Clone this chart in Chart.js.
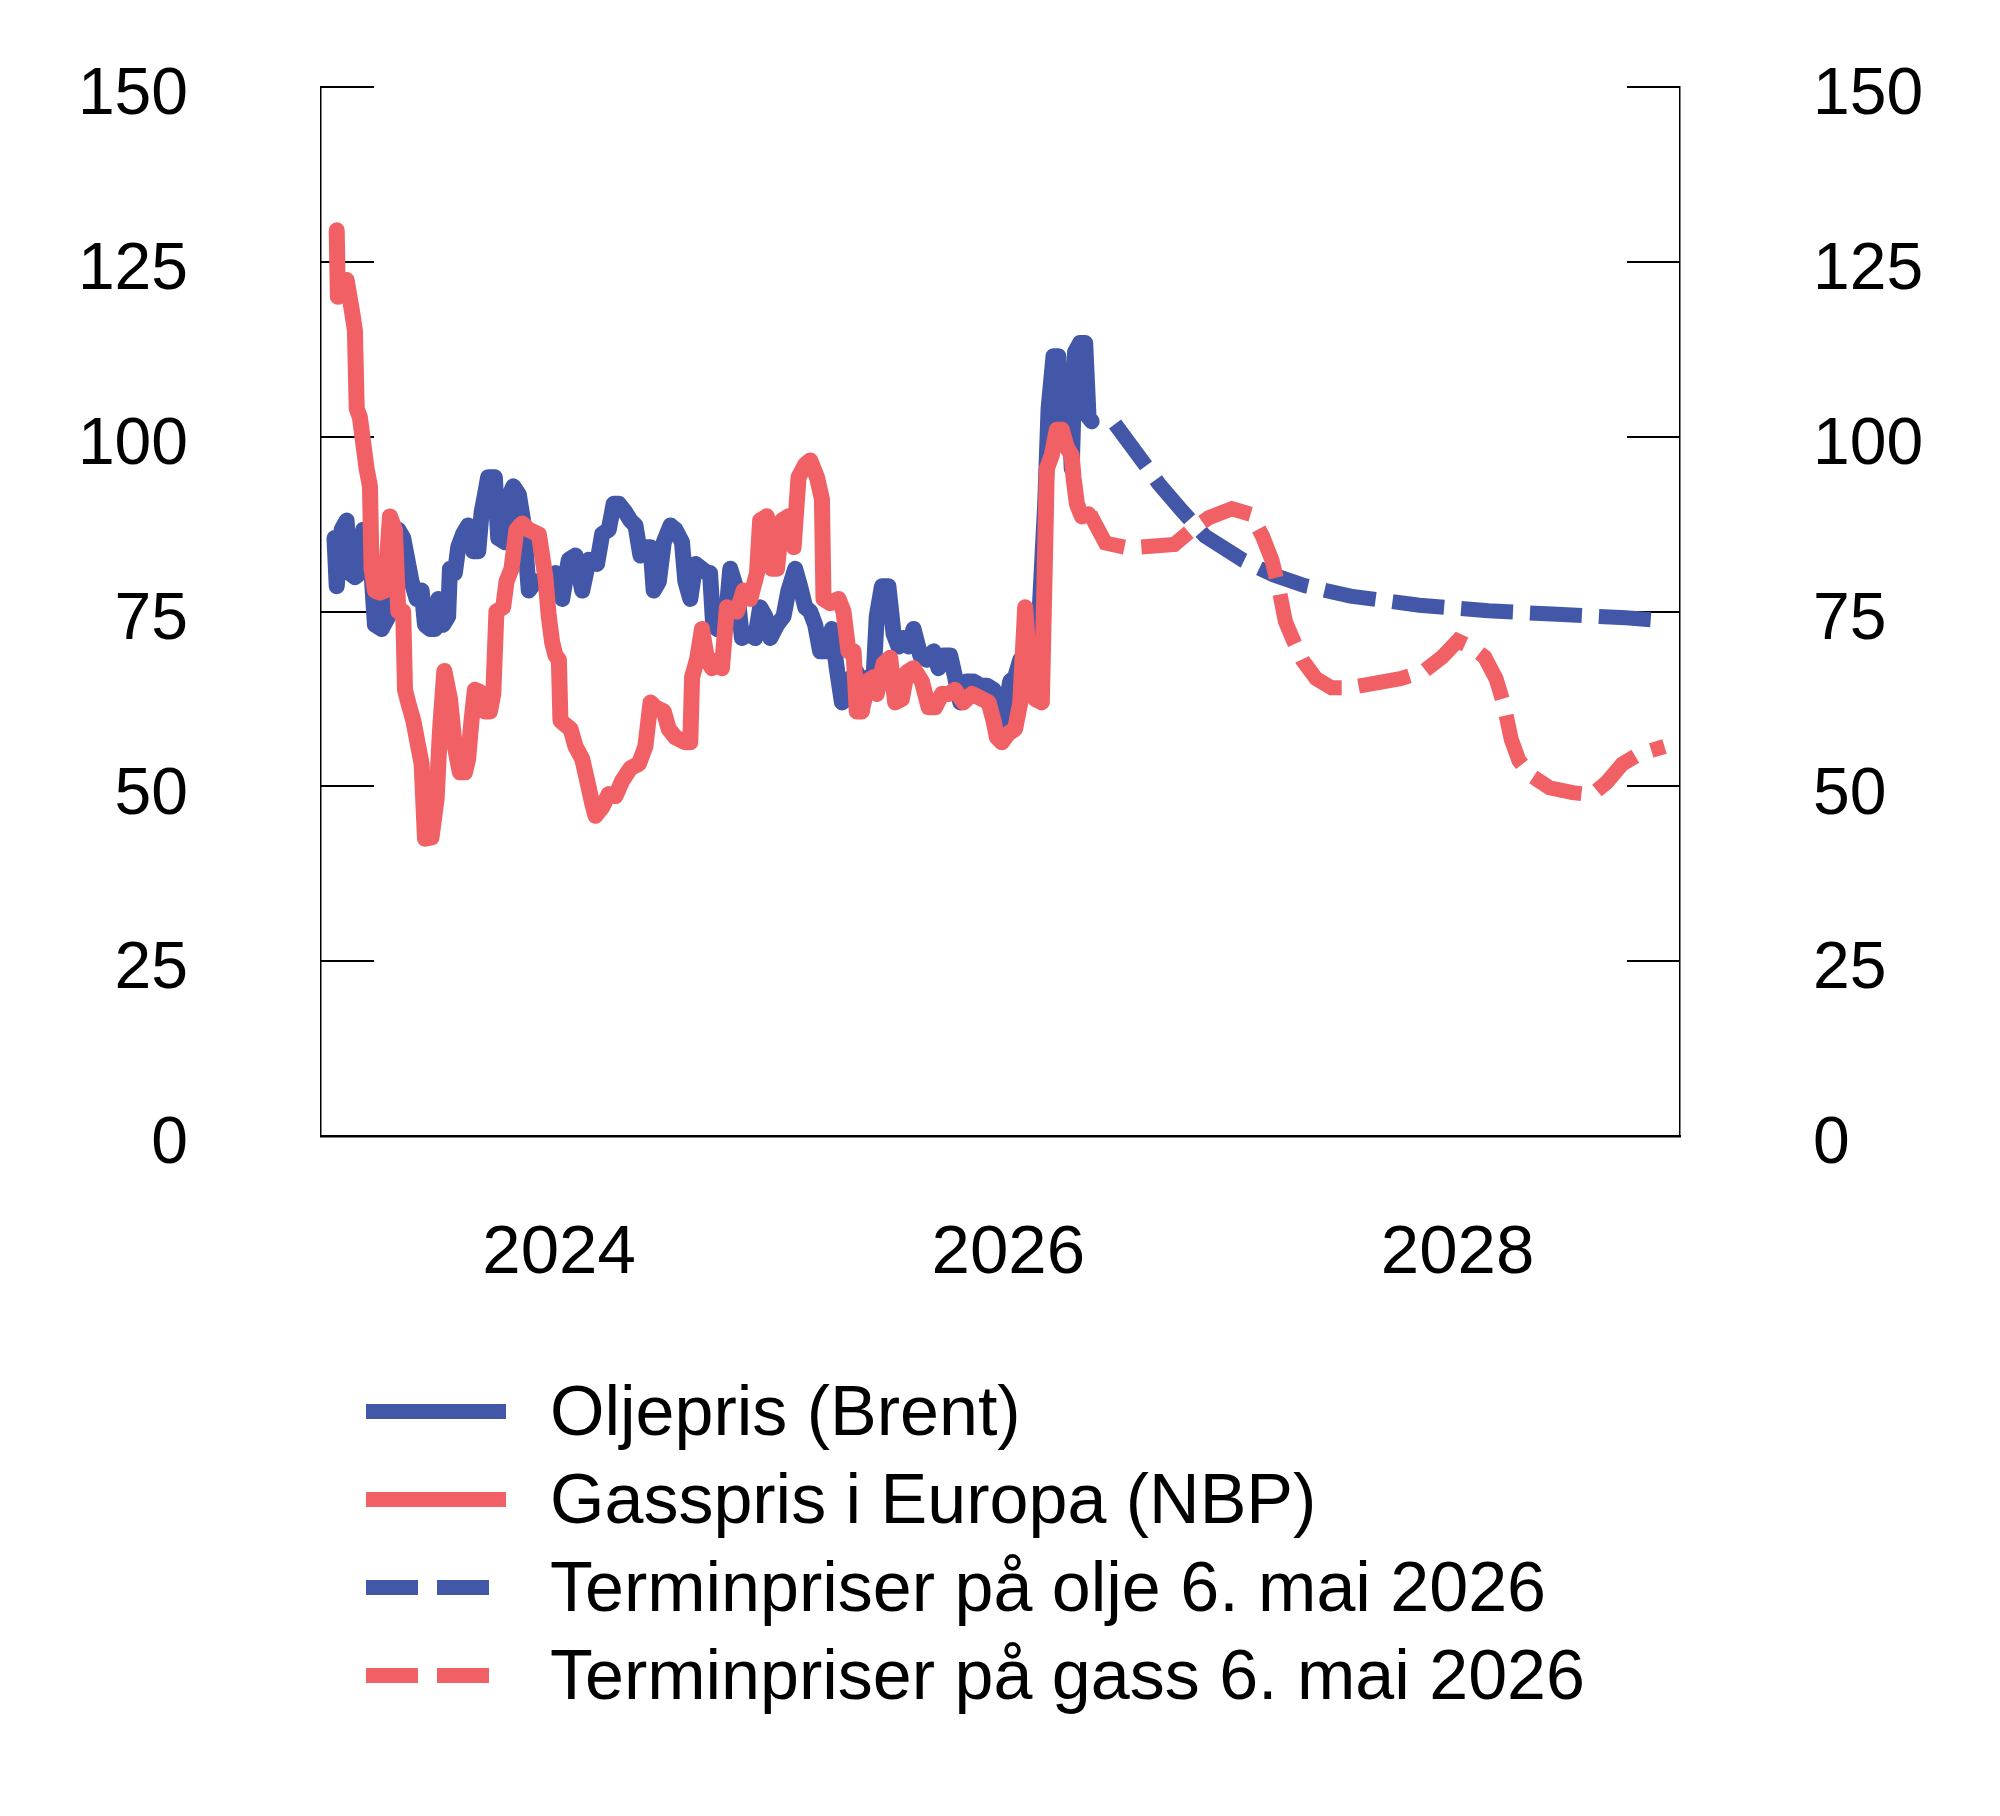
<!DOCTYPE html>
<html>
<head>
<meta charset="utf-8">
<script src="https://cdn.jsdelivr.net/npm/chart.js@4.4.1/dist/chart.umd.min.js"></script>
<style>
  html, body { margin: 0; padding: 0; background: #fff; }
  body { width: 2000px; height: 1816px; position: relative; overflow: hidden; font-family: "Liberation Sans", Arial, sans-serif; }
  #chart { position: absolute; left: 0; top: 0; }
  .legend-row { position: absolute; left: 366px; height: 80px; display: flex; align-items: center; }
  .legend-row .sample { width: 140px; height: 15px; flex: none; }
  .legend-row .label { margin-left: 44px; font-size: 70px; color: #000; white-space: nowrap; }
</style>
</head>
<body>
<canvas id="chart" width="2000" height="1300"></canvas>
<div id="legend"></div>
<script>
// --- DATA (decimal years / price index) ---
const xTickYears = [2024, 2026, 2028];

const oilX = [2023.000, 2023.010, 2023.032, 2023.054, 2023.069, 2023.091, 2023.113, 2023.128, 2023.151, 2023.165,
  2023.180, 2023.210, 2023.240, 2023.254, 2023.284, 2023.306, 2023.321, 2023.343, 2023.366, 2023.388,
  2023.403, 2023.425, 2023.447, 2023.462, 2023.484, 2023.506, 2023.514, 2023.536, 2023.551, 2023.573,
  2023.595, 2023.618, 2023.640, 2023.655, 2023.670, 2023.684, 2023.714, 2023.729, 2023.759, 2023.773,
  2023.796, 2023.821, 2023.843, 2023.865, 2023.895, 2023.925, 2023.954, 2023.984, 2024.014, 2024.043,
  2024.073, 2024.103, 2024.132, 2024.169, 2024.192, 2024.221, 2024.243, 2024.266, 2024.295, 2024.318,
  2024.340, 2024.362, 2024.384, 2024.407, 2024.421, 2024.444, 2024.466, 2024.496, 2024.518, 2024.547,
  2024.562, 2024.584, 2024.607, 2024.636, 2024.659, 2024.672, 2024.685, 2024.703, 2024.740, 2024.762,
  2024.792, 2024.814, 2024.844, 2024.873, 2024.895, 2024.918, 2024.940, 2024.970, 2024.999, 2025.021,
  2025.051, 2025.073, 2025.096, 2025.118, 2025.140, 2025.162, 2025.192, 2025.214, 2025.236, 2025.259,
  2025.281, 2025.303, 2025.325, 2025.355, 2025.377, 2025.400, 2025.414, 2025.437, 2025.466, 2025.489,
  2025.511, 2025.533, 2025.556, 2025.578, 2025.608, 2025.637, 2025.667, 2025.689, 2025.712, 2025.741,
  2025.763, 2025.786, 2025.815, 2025.845, 2025.875, 2025.904, 2025.934, 2025.956, 2025.971, 2025.986,
  2026.008, 2026.030, 2026.053, 2026.104, 2026.134, 2026.164, 2026.179, 2026.201, 2026.223, 2026.238,
  2026.253, 2026.268, 2026.282, 2026.297, 2026.319, 2026.342, 2026.357, 2026.371];
const oilY = [85.5, 78.6, 86.7, 88, 80.5, 79.9, 80.5, 86.7, 86.1, 80.5,
  73.1, 72.5, 74.3, 86.7, 86.7, 85.5, 83, 79.3, 76.8, 78,
  73.1, 72.5, 72.5, 76.8, 73.1, 74.3, 81.1, 80.5, 84.2, 86.1,
  87.3, 83.6, 83.6, 89.2, 91.7, 94.2, 94.2, 85.5, 84.9, 91.1,
  92.9, 91.7, 87.3, 78, 79.3, 79.3, 78, 80.5, 76.8, 82.4,
  83, 78, 82.4, 81.8, 86.1, 86.7, 90.4, 90.4, 89.2, 88,
  87.3, 83, 84.2, 84.2, 78, 79.3, 84.9, 87.3, 86.7, 84.9,
  79.3, 76.8, 81.8, 81.1, 80.5, 80.5, 73.5, 72.5, 73.1, 81.1,
  78, 71.2, 71.8, 71.2, 75.6, 74.3, 71.2, 73.1, 74.3, 78,
  81.1, 78.6, 75.6, 75, 73.1, 69.3, 69.3, 72.5, 66.9, 62,
  62.5, 65.6, 66.3, 62, 65.6, 65.6, 74.3, 78.6, 78.6, 71.8,
  70, 71.2, 70, 72.5, 68.7, 68.1, 69.3, 66.9, 68.7, 68.7,
  65.6, 62, 65, 65, 64.4, 64.4, 63.8, 62.5, 59.4, 60.7,
  65, 65.6, 68.1, 68.7, 71.8, 90.4, 104, 111.5, 111.5, 99.7,
  109, 108.4, 95.4, 112.1, 113.4, 113.4, 102.8, 102.2];

const gasX = [2023.010, 2023.015, 2023.032, 2023.054, 2023.076, 2023.091, 2023.099, 2023.113, 2023.128, 2023.143,
  2023.158, 2023.165, 2023.180, 2023.202, 2023.225, 2023.247, 2023.269, 2023.284, 2023.306, 2023.314,
  2023.328, 2023.351, 2023.373, 2023.388, 2023.403, 2023.432, 2023.455, 2023.469, 2023.489, 2023.514,
  2023.536, 2023.558, 2023.581, 2023.595, 2023.610, 2023.625, 2023.647, 2023.670, 2023.692, 2023.707,
  2023.721, 2023.751, 2023.766, 2023.788, 2023.810, 2023.836, 2023.865, 2023.910, 2023.939, 2023.954,
  2023.969, 2023.984, 2023.999, 2024.006, 2024.028, 2024.051, 2024.073, 2024.103, 2024.125, 2024.147,
  2024.162, 2024.192, 2024.221, 2024.251, 2024.281, 2024.318, 2024.355, 2024.384, 2024.407, 2024.429,
  2024.466, 2024.488, 2024.518, 2024.562, 2024.584, 2024.592, 2024.614, 2024.636, 2024.659, 2024.681,
  2024.703, 2024.725, 2024.747, 2024.792, 2024.821, 2024.851, 2024.881, 2024.895, 2024.925, 2024.947,
  2024.970, 2024.992, 2025.021, 2025.044, 2025.066, 2025.096, 2025.118, 2025.148, 2025.170, 2025.177,
  2025.207, 2025.244, 2025.266, 2025.288, 2025.311, 2025.325, 2025.348, 2025.370, 2025.400, 2025.414,
  2025.444, 2025.474, 2025.496, 2025.526, 2025.548, 2025.578, 2025.615, 2025.645, 2025.674, 2025.704,
  2025.734, 2025.763, 2025.800, 2025.838, 2025.882, 2025.912, 2025.934, 2025.949, 2025.971, 2026.001,
  2026.030, 2026.053, 2026.075, 2026.097, 2026.119, 2026.149, 2026.164, 2026.171, 2026.193, 2026.216,
  2026.238, 2026.260, 2026.282, 2026.290, 2026.305, 2026.327, 2026.357];
const gasY = [129.5, 120, 121.4, 122.4, 118.3, 115.2, 104, 102.8, 99.1, 95.4,
  92.9, 81.1, 78, 77.7, 78, 88.6, 86.7, 75, 75, 63.8,
  62, 59.4, 55.7, 53.2, 42.5, 42.7, 48.3, 57.6, 66.5, 62.5,
  55.7, 52, 52, 53.9, 59.4, 63.8, 63.5, 60.7, 60.7, 63.2,
  75, 75.6, 79.3, 81.1, 86.7, 87.6, 86.7, 86, 79.9, 74.3,
  70.6, 68.7, 68.1, 59.4, 58.8, 58.2, 55.7, 53.9, 50.8, 47.6,
  45.8, 47, 48.9, 48.6, 50.8, 52.6, 53.2, 55.7, 62, 61.3,
  60.7, 58.2, 57, 56.3, 56.3, 65.6, 68.1, 72.5, 68.1, 66.9,
  68, 66.9, 75.6, 75, 78, 76.8, 80.5, 88, 88.6, 81.1,
  81.1, 88, 88.6, 84.2, 94.2, 96, 96.6, 94.2, 91.1, 76.8,
  76.2, 76.8, 75, 69.3, 69.3, 60.7, 60.7, 65, 65.6, 63.2,
  67.5, 68.4, 62, 62.5, 66.3, 66.9, 65, 61.3, 61.3, 63.2,
  63.2, 63.8, 62, 63.2, 62.5, 62, 59.4, 57, 56.3, 57.6,
  58.2, 62, 75.6, 65.6, 62.5, 62, 84.2, 95.4, 97.3, 101,
  101, 98.5, 97.3, 94.2, 90.4, 88.6, 88.9];

const oilFwdX = [2026.475, 2026.620, 2026.671, 2026.773, 2026.875, 2027.046, 2027.182, 2027.318, 2027.523, 2027.830,
  2028.137, 2028.443, 2028.750, 2028.870];
const oilFwdY = [101.8, 95.5, 93.2, 89.4, 85.8, 82.3, 80.2, 78.7, 77.2, 75.9,
  75.1, 74.6, 74.1, 73.8];

const gasFwdX = [2026.364, 2026.432, 2026.534, 2026.620, 2026.739, 2026.824, 2026.892, 2026.995, 2027.080, 2027.131,
  2027.174, 2027.208, 2027.233, 2027.267, 2027.310, 2027.370, 2027.438, 2027.523, 2027.659, 2027.745,
  2027.847, 2027.932, 2028.000, 2028.068, 2028.120, 2028.171, 2028.205, 2028.239, 2028.273, 2028.324,
  2028.409, 2028.512, 2028.597, 2028.665, 2028.733, 2028.801, 2028.870, 2028.921];
const gasFwdY = [88.9, 84.8, 84.1, 84.3, 84.6, 86.9, 88.4, 89.7, 88.9, 85.8,
  82.3, 77.7, 73.6, 71, 68, 65.4, 64.1, 64.1, 64.9, 65.4,
  66.4, 68.5, 70.8, 69.8, 68.5, 65.4, 61.8, 56.7, 53.7, 51.6,
  49.8, 49.1, 48.8, 50.6, 53.2, 54.5, 55.2, 55.7];

const seriesLabels = ['Oljepris (Brent)', 'Gasspris i Europa (NBP)', 'Terminpriser på olje 6. mai 2026', 'Terminpriser på gass 6. mai 2026'];

const BLUE = '#4257a8';
const RED = '#f16065';
const DASH = [52, 17];
const FONT_FAMILY = '"Liberation Sans", Arial, sans-serif';

function toPoints(xs, ys) {
    return xs.map((x, i) => ({ x: x, y: ys[i] }));
}

// ticks drawn inside the plot area on both sides
const innerTicks = {
    id: 'innerTicks',
    beforeDatasetsDraw(chart) {
        const { ctx, chartArea } = chart;
        const y = chart.scales.y;
        ctx.save();
        ctx.strokeStyle = '#000';
        ctx.lineWidth = 2;
        y.ticks.forEach(t => {
            if (t.value === 0) return;
            const py = Math.round(y.getPixelForValue(t.value));
            ctx.beginPath();
            ctx.moveTo(chartArea.left, py);
            ctx.lineTo(chartArea.left + 53, py);
            ctx.moveTo(chartArea.right - 53, py);
            ctx.lineTo(chartArea.right, py);
            ctx.stroke();
        });
        ctx.restore();
    }
};

const yAxis = (pos, w) => ({
    position: pos,
    min: 0,
    max: 150,
    grid: { display: false, drawTicks: false },
    border: { display: true, color: '#000', width: 1.5 },
    ticks: { stepSize: 25, color: '#000', font: { family: FONT_FAMILY, size: 66 }, padding: 133, labelOffset: 9 },
    afterFit: s => {
        s.width = w;
        // label padding is only horizontal here, keep it out of the vertical layout
        s.paddingTop = 0;
        s.paddingBottom = 0;
    }
});

const ctx = document.getElementById('chart').getContext('2d');
new Chart(ctx, {
    type: 'line',
    data: {
        datasets: [
            { label: seriesLabels[0], data: toPoints(oilX, oilY), borderColor: BLUE, borderWidth: 16, order: 4,
              borderJoinStyle: 'round', borderCapStyle: 'round' },
            { label: seriesLabels[1], data: toPoints(gasX, gasY), borderColor: RED, borderWidth: 16, order: 3,
              borderJoinStyle: 'round', borderCapStyle: 'round' },
            { label: seriesLabels[2], data: toPoints(oilFwdX, oilFwdY), borderColor: BLUE, borderWidth: 15, order: 2,
              borderDash: DASH, borderCapStyle: 'butt' },
            { label: seriesLabels[3], data: toPoints(gasFwdX, gasFwdY), borderColor: RED, borderWidth: 15, order: 1,
              borderDash: DASH, borderCapStyle: 'butt' }
        ]
    },
    options: {
        responsive: false,
        animation: false,
        elements: { point: { radius: 0 }, line: { tension: 0 } },
        layout: { padding: { top: 87, left: 0, right: 0, bottom: 0 } },
        plugins: { legend: { display: false }, tooltip: { enabled: false } },
        scales: {
            x: {
                type: 'linear',
                min: 2022.94,
                max: 2028.99,
                afterBuildTicks: s => { s.ticks = xTickYears.map(v => ({ value: v })); },
                grid: { display: false, drawTicks: false },
                border: { display: true, color: '#000', width: 2.5 },
                ticks: { color: '#000', font: { family: FONT_FAMILY, size: 69 }, padding: 77, maxRotation: 0, autoSkip: false,
                         callback: v => String(v) },
                afterFit: s => { s.height = 164; }
            },
            y: yAxis('left', 321),
            y2: yAxis('right', 320)
        }
    },
    plugins: [innerTicks]
});

// --- LEGEND ---
const legendColors = [BLUE, RED, BLUE, RED];
const legendDashed = [false, false, true, true];
const legendCenters = [1411, 1499, 1587, 1675];
const legend = document.getElementById('legend');
seriesLabels.forEach((text, i) => {
    const row = document.createElement('div');
    row.className = 'legend-row';
    row.style.top = (legendCenters[i] - 40) + 'px';
    const sample = document.createElement('div');
    sample.className = 'sample';
    sample.style.background = legendDashed[i]
        ? `repeating-linear-gradient(to right, ${legendColors[i]} 0 52px, transparent 52px 71px)`
        : legendColors[i];
    if (legendDashed[i]) sample.style.width = '123px';
    const label = document.createElement('span');
    label.className = 'label';
    label.textContent = text;
    if (legendDashed[i]) label.style.marginLeft = '61px';
    row.appendChild(sample);
    row.appendChild(label);
    legend.appendChild(row);
});
</script>
</body>
</html>
